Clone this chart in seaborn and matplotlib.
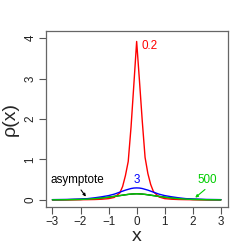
import matplotlib
matplotlib.use("Agg")
import matplotlib.pyplot as plt
import seaborn as sns
import pandas as pd

x_vals = [-3, -2.5, -2, -1.75, -1.5, -1.25, -1, -0.8, -0.6, -0.5, -0.4, -0.3, -0.2, -0.1, 0,
          0.1, 0.2, 0.3, 0.4, 0.5, 0.6, 0.8, 1, 1.25, 1.5, 1.75, 2, 2.5, 3]
red_02 = [0.0, 0.001, 0.003, 0.005, 0.008, 0.015, 0.03, 0.06, 0.17, 0.33, 0.6, 0.95, 1.8, 2.85, 3.92,
          2.95, 1.95, 1.05, 0.65, 0.38, 0.2, 0.07, 0.03, 0.015, 0.008, 0.005, 0.003, 0.001, 0.0]
blue_3 = [0.005, 0.01, 0.02, 0.03, 0.05, 0.075, 0.105, 0.14, 0.19, 0.215, 0.24, 0.26, 0.28, 0.292, 0.295,
          0.292, 0.28, 0.26, 0.24, 0.215, 0.19, 0.14, 0.105, 0.075, 0.05, 0.03, 0.02, 0.01, 0.005]
green_500 = [0.0, 0.003, 0.01, 0.018, 0.03, 0.045, 0.065, 0.085, 0.105, 0.115, 0.125, 0.135, 0.142, 0.147, 0.15,
             0.147, 0.142, 0.135, 0.125, 0.115, 0.105, 0.085, 0.065, 0.045, 0.03, 0.018, 0.01, 0.003, 0.0]
black_asym = [0.0, 0.003, 0.01, 0.018, 0.03, 0.045, 0.065, 0.085, 0.105, 0.115, 0.125, 0.135, 0.142, 0.147, 0.15,
              0.147, 0.142, 0.135, 0.125, 0.115, 0.105, 0.085, 0.065, 0.045, 0.03, 0.018, 0.01, 0.003, 0.0]

x_ticks = [-3, -2, -1, 0, 1, 2, 3]
x_tick_labels = ["\u22123", "\u22122", "\u22121", "0", "1", "2", "3"]
y_ticks = [0, 1, 2, 3, 4]
y_tick_labels = ["0", "1", "2", "3", "4"]

sns.set_style("white")
plt.rcParams['font.family'] = ['Liberation Sans', 'DejaVu Sans']

fig = plt.figure(figsize=(2.45, 2.45), dpi=100)
ax = fig.add_axes([0.1865, 0.1563, 0.929 - 0.1865, 0.872 - 0.1563])

df = pd.DataFrame({"x": x_vals, "red": red_02, "blue": blue_3, "green": green_500, "black": black_asym})
lw = 1.0
sns.lineplot(data=df, x="x", y="black", color="black", lw=lw, ax=ax, sort=False, estimator=None)
sns.lineplot(data=df, x="x", y="red", color="#FF0000", lw=lw, ax=ax, sort=False, estimator=None)
sns.lineplot(data=df, x="x", y="blue", color="#0000FF", lw=lw, ax=ax, sort=False, estimator=None)
sns.lineplot(data=df, x="x", y="green", color="#00CD00", lw=lw, ax=ax, sort=False, estimator=None)

ax.set_xlim(-3.24, 3.24)
ax.set_ylim(-0.17, 4.17)

fs = 8.4
ax.set_xticks(x_ticks)
ax.set_xticklabels(x_tick_labels, fontsize=fs, color="#222222")
ax.set_yticks(y_ticks)
ax.set_yticklabels(y_tick_labels, fontsize=fs, color="#222222", rotation=90, va="center")
ax.tick_params(axis="both", direction="out", length=5, width=0.8, color="#555555", pad=1.5,
               bottom=True, left=True)

for s in ax.spines.values():
    s.set_visible(True)
    s.set_color("#666666")
    s.set_linewidth(0.9)

ax.set_xlabel("x", fontsize=14, labelpad=0)
ax.set_ylabel("\u03c1(x)", fontsize=14, labelpad=4)

ax.text(0.17, 3.81, "0.2", color="#FF0000", fontsize=fs, ha="left", va="center")
ax.text(0.0, 0.50, "3", color="#0000FF", fontsize=fs, ha="center", va="center")
ax.text(2.5, 0.49, "500", color="#00CD00", fontsize=fs, ha="center", va="center")
ax.text(-2.1, 0.50, "asymptote", color="black", fontsize=fs, ha="center", va="center")

ax.annotate("", xy=(-1.75, 0.025), xytext=(-2.04, 0.30),
            arrowprops=dict(arrowstyle="-|>", color="black", lw=0.8, mutation_scale=4))
ax.annotate("", xy=(2.01, 0.01), xytext=(2.51, 0.30),
            arrowprops=dict(arrowstyle="-|>", color="#00CD00", lw=0.8, mutation_scale=4))

fig.savefig("out.png", dpi=100)
